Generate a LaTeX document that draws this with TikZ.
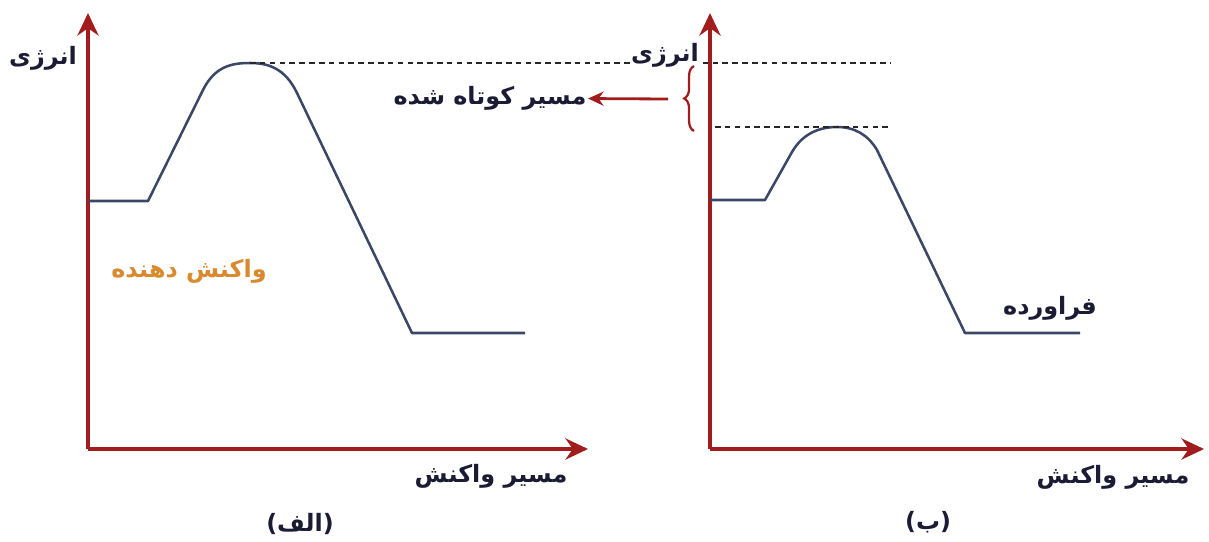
\documentclass[tikz,border=0pt]{standalone}
\usepackage{fontspec}
\usepackage{tikz}
\usepackage{xcolor}
\usetikzlibrary{arrows.meta,decorations.pathreplacing}
\newfontfamily\arabicfont[Script=Arabic]{DejaVu Sans}
\newfontfamily\latinfont{DejaVu Sans}
\TeXXeTstate=1
\definecolor{eje}{HTML}{A11D1D}
\definecolor{curva}{HTML}{3B4766}
\definecolor{naranja}{HTML}{D98A2E}
\definecolor{texto}{HTML}{1B1B33}

\begin{document}
\begin{tikzpicture} %Diagrama de energia
  [
  x=0.025cm, y=-0.025cm,
  eje/.style={draw=eje, line width=2.6pt, -{Stealth[length=16pt,width=15pt]}},
  curva/.style={draw=curva, line width=1.8pt, line join=round},
  punteada/.style={draw=black!85, line width=1pt, dash pattern=on 4pt off 3pt},
  etiqueta/.style={font=\arabicfont\bfseries\fontsize{17}{19}\selectfont, text=texto, inner sep=1pt}
  ]
  \useasboundingbox (0,0) rectangle (1209,541);
  % ejes (a)
  \coordinate (o1) at (88,449);
  \coordinate (y1) at (88,13);
  \coordinate (x1) at (588,449);
  \draw[eje] (o1) -- (y1);
  \draw[eje] (o1) -- (x1);
  % ejes (b)
  \coordinate (o2) at (710,449);
  \coordinate (y2) at (710,13);
  \coordinate (x2) at (1204,449);
  \draw[eje] (o2) -- (y2);
  \draw[eje] (o2) -- (x2);
  % curvas
  \coordinate (p1) at (250,63);
  \coordinate (p2) at (837,127);
  \draw[curva] (88,201) -- (148,201) -- (203,90)
    .. controls (215,66) and (232,63) .. (p1)
    .. controls (268,63) and (285,68) .. (297,93) -- (412,333) -- (525,333);
  \draw[curva] (710,200) -- (765,200) -- (792,152)
    .. controls (803,133) and (820,127) .. (p2)
    .. controls (855,127) and (868,135) .. (877,150) -- (965,333) -- (1080,333);
  % lineas punteadas
  \coordinate (d1) at (890,63);
  \coordinate (d2) at (715,127);
  \coordinate (d3) at (890,127);
  \draw[punteada] (p1) -- (d1);
  \draw[punteada] (d2) -- (d3);
  % textos
  \node[etiqueta] (ener1) at (43,58) {\beginR انرژی\endR};
  \node[etiqueta, fill=white] (ener2) at (665,55) {\beginR انرژی\endR};
  \node[etiqueta, text=naranja] (reac) at (189,271) {\beginR واکنش دهنده\endR};
  \node[etiqueta] (camino1) at (491,476) {\beginR مسیر واکنش\endR};
  \node[etiqueta] (camino2) at (1113,477) {\beginR مسیر واکنش\endR};
  \node[etiqueta] (prod) at (1050,308) {\beginR فراورده\endR};
  \node[etiqueta] (corto) at (490,98) {\beginR مسیر کوتاه شده\endR};
  \node[etiqueta] (alef) at (300,524) {{\latinfont\bfseries(}\beginR الف\endR{\latinfont\bfseries)}};
  \node[etiqueta] (be) at (928,522) {{\latinfont\bfseries(}\beginR ب\endR{\latinfont\bfseries)}};
  % llave y flecha
  \coordinate (b1) at (694,131);
  \coordinate (b2) at (694,66);
  \coordinate (llave) at (668,99);
  \draw[draw=eje, line width=1.6pt, decorate, decoration={brace, amplitude=7pt}] (b1) -- (b2);
  \draw[draw=eje, line width=2pt, -{Stealth[length=11pt,width=10pt]}] (llave) -- (corto);
\end{tikzpicture}
\end{document}
